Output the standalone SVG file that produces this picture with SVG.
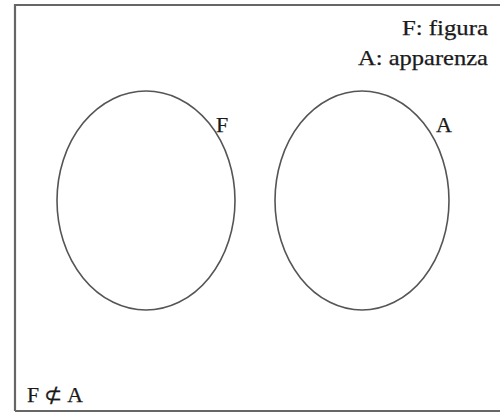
<svg xmlns="http://www.w3.org/2000/svg" width="500" height="414" viewBox="0 0 500 414">
<style>
.t{font-family:"Liberation Serif","Times New Roman",serif;fill:#1a1a1a;stroke:#1a1a1a;stroke-width:0.25}
.set{fill:none;stroke:#555;stroke-width:1.6}
</style>
<rect width="500" height="414" fill="#fff"/>
<path d="M15,411 V5 H502 M15,411 H502" fill="none" stroke="#666" stroke-width="2.2"/>
<g id="legend">
<text class="t" x="402" y="35" font-size="21" textLength="86" lengthAdjust="spacingAndGlyphs">F: figura</text>
<text class="t" x="358" y="65" font-size="21" textLength="130" lengthAdjust="spacingAndGlyphs">A: apparenza</text>
</g>
<g id="setF">
<ellipse class="set" cx="146" cy="200.5" rx="89" ry="109.5"/>
<text class="t" x="216" y="132" font-size="22">F</text>
</g>
<g id="setA">
<ellipse class="set" cx="362" cy="200.5" rx="87" ry="109.5"/>
<text class="t" x="436" y="132" font-size="22">A</text>
</g>
<g id="relation">
<text class="t" x="27" y="402" font-size="21" textLength="56" lengthAdjust="spacingAndGlyphs">F ⊄ A</text>
</g>
<g id="connectors"/>
</svg>
